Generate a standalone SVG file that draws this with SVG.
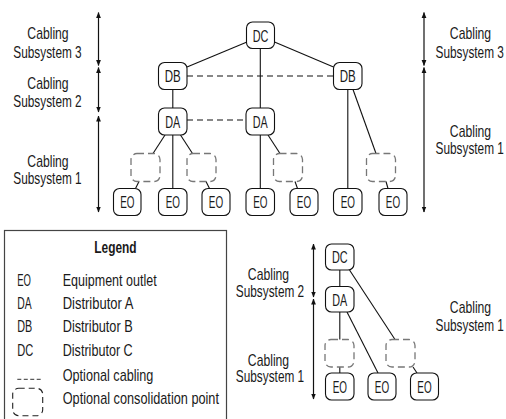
<svg xmlns="http://www.w3.org/2000/svg" width="506" height="419" viewBox="0 0 506 419">
<style>
text{font-family:"Liberation Sans",Arial,sans-serif;font-size:17px;fill:#1a1a1a}
.c{text-anchor:middle}
.box{fill:#fff;stroke:#111;stroke-width:1.1}
.cp{fill:none;stroke:#777;stroke-width:1.3;stroke-dasharray:7 4}
.ln{stroke:#111;stroke-width:1.1;fill:none}
.dl{stroke:#111;stroke-width:1.1;fill:none;stroke-dasharray:6 4}
.ar{stroke:#111;stroke-width:1.2;fill:none;marker-start:url(#ah);marker-end:url(#ah)}
.lgb{fill:#fff;stroke:#444;stroke-width:1.2}
</style>
<defs>
<marker id="ah" markerUnits="userSpaceOnUse" markerWidth="6" markerHeight="6" viewBox="0 0 6 6" refX="5.5" refY="3" orient="auto-start-reverse">
<path d="M0,0.6 L6,3 L0,5.4 z" fill="#111"/>
</marker>
</defs>

<g id="connectors">
<line class="ln" x1="247" y1="42" x2="187" y2="67"/>
<line class="ln" x1="274.5" y1="42" x2="333.5" y2="67"/>
<line class="ln" x1="260.3" y1="48.5" x2="260.3" y2="108"/>
<line class="ln" x1="172.8" y1="89.5" x2="172.8" y2="108"/>
<line class="dl" x1="187" y1="76" x2="333.5" y2="76"/>
<line class="dl" x1="187" y1="120" x2="246" y2="120"/>
<line class="ln" x1="165" y1="135" x2="153" y2="153.5"/>
<line class="ln" x1="172.8" y1="135" x2="172.8" y2="188.5"/>
<line class="ln" x1="180.5" y1="135" x2="192.5" y2="153.5"/>
<line class="ln" x1="139" y1="181.5" x2="135.5" y2="188.5"/>
<line class="ln" x1="206" y1="181.5" x2="209.5" y2="188.5"/>
<line class="ln" x1="260.3" y1="135" x2="260.3" y2="188.5"/>
<line class="ln" x1="268" y1="135" x2="280" y2="153.5"/>
<line class="ln" x1="295" y1="181.5" x2="297.5" y2="188.5"/>
<line class="ln" x1="347.8" y1="89.5" x2="347.8" y2="188.5"/>
<line class="ln" x1="353" y1="89.5" x2="376" y2="153.5"/>
<line class="ln" x1="386" y1="181.5" x2="388" y2="188.5"/>
<line class="ln" x1="339.8" y1="270" x2="339.8" y2="286.5"/>
<line class="ln" x1="349.5" y1="270" x2="395" y2="339.5"/>
<line class="ln" x1="347" y1="312" x2="378" y2="373"/>
<line class="ln" x1="339.8" y1="312" x2="339.8" y2="339.5"/>
<line class="ln" x1="339.8" y1="367" x2="339.8" y2="373"/>
<line class="ln" x1="413" y1="367" x2="417" y2="373"/>
<line class="ar" x1="98.5" y1="12.5" x2="98.5" y2="65.5"/>
<line class="ar" x1="98.5" y1="67.5" x2="98.5" y2="112"/>
<line class="ar" x1="98.5" y1="116" x2="98.5" y2="212"/>
<line class="ar" x1="424" y1="12.5" x2="424" y2="65.5"/>
<line class="ar" x1="424" y1="67.5" x2="424" y2="212"/>
<line class="ar" x1="313.5" y1="244" x2="313.5" y2="297"/>
<line class="ar" x1="313.5" y1="299" x2="313.5" y2="399"/>
</g>

<g id="labels">
<text class="c" x="48" y="39" textLength="41.3" lengthAdjust="spacingAndGlyphs">Cabling</text>
<text class="c" x="47.5" y="58" textLength="68.3" lengthAdjust="spacingAndGlyphs">Subsystem 3</text>
<text class="c" x="48" y="89" textLength="41.3" lengthAdjust="spacingAndGlyphs">Cabling</text>
<text class="c" x="47.5" y="106.7" textLength="68.3" lengthAdjust="spacingAndGlyphs">Subsystem 2</text>
<text class="c" x="48" y="167" textLength="41.3" lengthAdjust="spacingAndGlyphs">Cabling</text>
<text class="c" x="47.5" y="184" textLength="68.3" lengthAdjust="spacingAndGlyphs">Subsystem 1</text>
<text class="c" x="470.5" y="39" textLength="41.3" lengthAdjust="spacingAndGlyphs">Cabling</text>
<text class="c" x="469.7" y="58" textLength="68.3" lengthAdjust="spacingAndGlyphs">Subsystem 3</text>
<text class="c" x="470.5" y="136.5" textLength="41.3" lengthAdjust="spacingAndGlyphs">Cabling</text>
<text class="c" x="469.7" y="154" textLength="68.3" lengthAdjust="spacingAndGlyphs">Subsystem 1</text>
<text class="c" x="268.5" y="280" textLength="41.3" lengthAdjust="spacingAndGlyphs">Cabling</text>
<text class="c" x="270" y="297.3" textLength="68.3" lengthAdjust="spacingAndGlyphs">Subsystem 2</text>
<text class="c" x="268.5" y="365.5" textLength="41.3" lengthAdjust="spacingAndGlyphs">Cabling</text>
<text class="c" x="270" y="382" textLength="68.3" lengthAdjust="spacingAndGlyphs">Subsystem 1</text>
<text class="c" x="470.5" y="313" textLength="41.3" lengthAdjust="spacingAndGlyphs">Cabling</text>
<text class="c" x="469.7" y="330.5" textLength="68.3" lengthAdjust="spacingAndGlyphs">Subsystem 1</text>
</g>

<g id="cp1"><rect class="cp" x="131" y="153.5" width="29" height="28" rx="6"/></g>
<g id="cp2"><rect class="cp" x="187" y="153.5" width="29" height="28" rx="6"/></g>
<g id="cp3"><rect class="cp" x="273.5" y="153.5" width="29" height="28" rx="6"/></g>
<g id="cp4"><rect class="cp" x="366.5" y="153.5" width="29" height="28" rx="6"/></g>
<g id="cp5"><rect class="cp" x="325" y="339.5" width="29" height="27.5" rx="6"/></g>
<g id="cp6"><rect class="cp" x="386" y="339.5" width="29" height="27.5" rx="6"/></g>

<g id="dc"><rect class="box" x="246.5" y="22" width="28" height="26.5" rx="6"/><text class="c" x="260.5" y="41.5" textLength="15.7" lengthAdjust="spacingAndGlyphs">DC</text></g>
<g id="db1"><rect class="box" x="158.5" y="62.5" width="28.5" height="27" rx="6"/><text class="c" x="172.8" y="82.2" textLength="16" lengthAdjust="spacingAndGlyphs">DB</text></g>
<g id="db2"><rect class="box" x="333.5" y="62.5" width="28.5" height="27" rx="6"/><text class="c" x="347.8" y="82.2" textLength="16" lengthAdjust="spacingAndGlyphs">DB</text></g>
<g id="da1"><rect class="box" x="158.5" y="108" width="28.5" height="27" rx="6"/><text class="c" x="172.8" y="127.7" textLength="15" lengthAdjust="spacingAndGlyphs">DA</text></g>
<g id="da2"><rect class="box" x="246" y="108" width="28.5" height="27" rx="6"/><text class="c" x="260.3" y="127.7" textLength="15" lengthAdjust="spacingAndGlyphs">DA</text></g>
<g id="eo1"><rect class="box" x="113.5" y="188.5" width="27.5" height="27" rx="6"/><text class="c" x="127.3" y="208.2" textLength="14.3" lengthAdjust="spacingAndGlyphs">EO</text></g>
<g id="eo2"><rect class="box" x="158.5" y="188.5" width="28.5" height="27" rx="6"/><text class="c" x="172.8" y="208.2" textLength="14.3" lengthAdjust="spacingAndGlyphs">EO</text></g>
<g id="eo3"><rect class="box" x="202" y="188.5" width="28" height="27" rx="6"/><text class="c" x="216" y="208.2" textLength="14.3" lengthAdjust="spacingAndGlyphs">EO</text></g>
<g id="eo4"><rect class="box" x="246" y="188.5" width="28.5" height="27" rx="6"/><text class="c" x="260.3" y="208.2" textLength="14.3" lengthAdjust="spacingAndGlyphs">EO</text></g>
<g id="eo5"><rect class="box" x="290" y="188.5" width="28" height="27" rx="6"/><text class="c" x="304" y="208.2" textLength="14.3" lengthAdjust="spacingAndGlyphs">EO</text></g>
<g id="eo6"><rect class="box" x="333.5" y="188.5" width="28.5" height="27" rx="6"/><text class="c" x="347.8" y="208.2" textLength="14.3" lengthAdjust="spacingAndGlyphs">EO</text></g>
<g id="eo7"><rect class="box" x="379" y="188.5" width="28" height="27" rx="6"/><text class="c" x="393" y="208.2" textLength="14.3" lengthAdjust="spacingAndGlyphs">EO</text></g>

<g id="dc2"><rect class="box" x="325.5" y="244" width="28.5" height="26" rx="6"/><text class="c" x="339.8" y="263.2" textLength="15.7" lengthAdjust="spacingAndGlyphs">DC</text></g>
<g id="da3"><rect class="box" x="325.5" y="286.5" width="28.5" height="25.5" rx="6"/><text class="c" x="339.8" y="305.5" textLength="15" lengthAdjust="spacingAndGlyphs">DA</text></g>
<g id="eo8"><rect class="box" x="325.5" y="373" width="28.5" height="27" rx="6"/><text class="c" x="339.8" y="392.7" textLength="14.3" lengthAdjust="spacingAndGlyphs">EO</text></g>
<g id="eo9"><rect class="box" x="368" y="373" width="28" height="27" rx="6"/><text class="c" x="382" y="392.7" textLength="14.3" lengthAdjust="spacingAndGlyphs">EO</text></g>
<g id="eo10"><rect class="box" x="410.5" y="373" width="28" height="27" rx="6"/><text class="c" x="424.5" y="392.7" textLength="14.3" lengthAdjust="spacingAndGlyphs">EO</text></g>

<g id="legend">
<rect class="lgb" x="4.5" y="230.5" width="222" height="195"/>
<text class="c" x="115.5" y="252.5" font-weight="bold" textLength="42.3" lengthAdjust="spacingAndGlyphs">Legend</text>
<text x="17.3" y="286" textLength="13.7" lengthAdjust="spacingAndGlyphs">EO</text>
<text x="62.7" y="286" textLength="94" lengthAdjust="spacingAndGlyphs">Equipment outlet</text>
<text x="17.3" y="309" textLength="14.4" lengthAdjust="spacingAndGlyphs">DA</text>
<text x="62.7" y="309" textLength="70.7" lengthAdjust="spacingAndGlyphs">Distributor A</text>
<text x="17.3" y="332.3" textLength="15" lengthAdjust="spacingAndGlyphs">DB</text>
<text x="62.7" y="332.3" textLength="70" lengthAdjust="spacingAndGlyphs">Distributor B</text>
<text x="17.3" y="355.7" textLength="16" lengthAdjust="spacingAndGlyphs">DC</text>
<text x="62.7" y="355.7" textLength="70" lengthAdjust="spacingAndGlyphs">Distributor C</text>
<line x1="17.3" y1="379.3" x2="40.7" y2="379.3" stroke="#333" stroke-width="1" stroke-dasharray="4 2.47"/>
<text x="62.7" y="381" textLength="90.7" lengthAdjust="spacingAndGlyphs">Optional cabling</text>
<rect x="12.7" y="388.3" width="30" height="27.4" rx="6" fill="none" stroke="#222" stroke-width="1.1" stroke-dasharray="6 4"/>
<text x="62.7" y="404" textLength="156.3" lengthAdjust="spacingAndGlyphs">Optional consolidation point</text>
</g>
</svg>
